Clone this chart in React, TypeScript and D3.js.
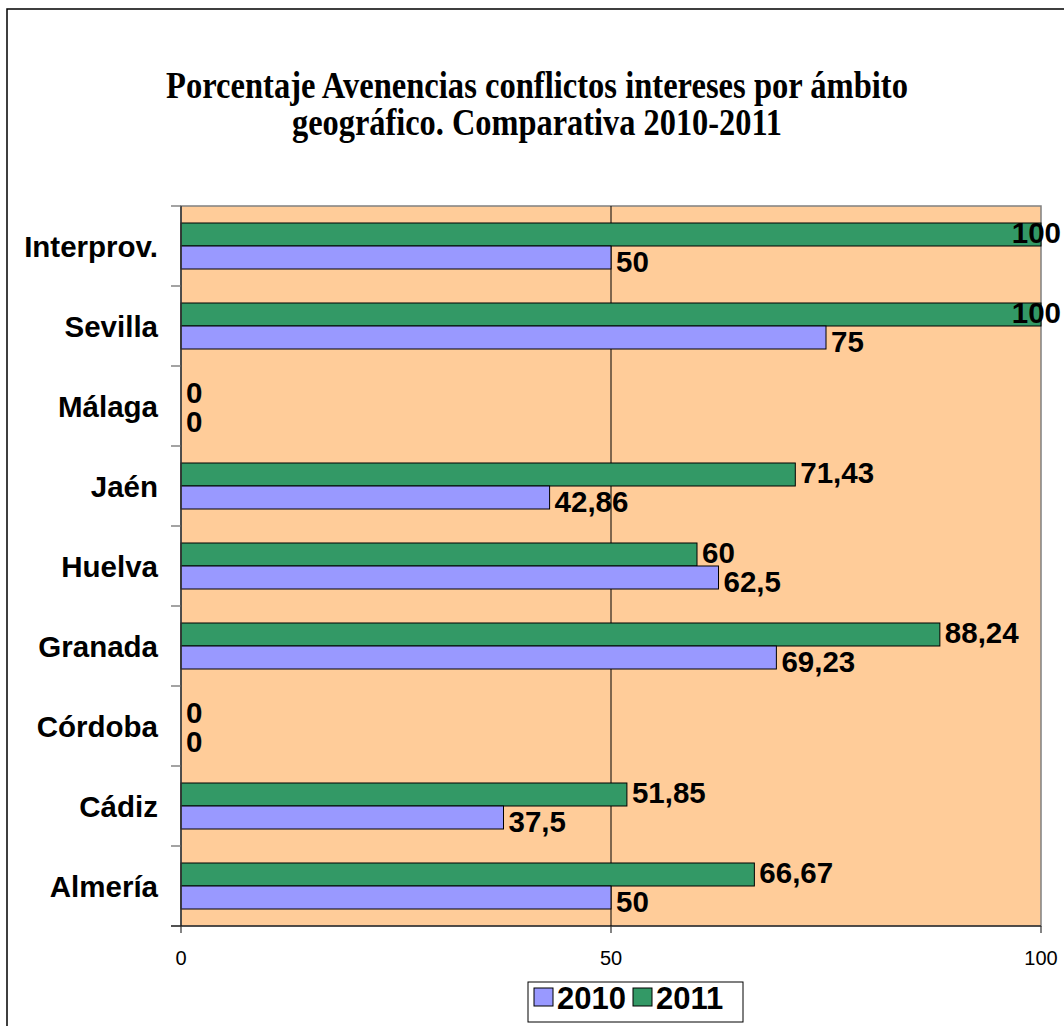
import React from "react";
import * as d3 from "d3";

const categories = ["Interprov.", "Sevilla", "Málaga", "Jaén", "Huelva", "Granada", "Córdoba", "Cádiz", "Almería"];
const values2010 = [50, 75, 0, 42.86, 62.5, 69.23, 0, 37.5, 50];
const values2011 = [100, 100, 0, 71.43, 60, 88.24, 0, 51.85, 66.67];
const seriesNames = ["2011", "2010"];
const xTicks = [0, 50, 100];
const titleLines = ["Porcentaje Avenencias conflictos intereses por ámbito", "geográfico. Comparativa 2010-2011"];

const W = 1064;
const H = 1026;
const plot = { left: 181, right: 1041, top: 206, bottom: 926 };
const colors: Record<string, string> = { "2010": "#9999FF", "2011": "#339966" };
const SANS = "'Liberation Sans', Arial, sans-serif";

const fmt = (v: number) => String(v).replace(".", ",");

export default function App() {
  const x = d3.scaleLinear().domain([0, 100]).range([plot.left, plot.right]);
  const y = d3.scaleBand<string>().domain(categories).range([plot.top, plot.bottom]).padding(0);
  const inner = d3
    .scaleBand<string>()
    .domain(seriesNames)
    .range([0, y.bandwidth()])
    .paddingInner(0)
    .paddingOuter(0.739);

  const series: Record<string, number[]> = { "2010": values2010, "2011": values2011 };
  const labelSize = 29.5;
  const digitW = 0.556 * labelSize;
  const labelShift: Record<string, number> = { "2011": -2, "2010": 4 };

  const bars: React.ReactNode[] = [];
  const labels: React.ReactNode[] = [];
  categories.forEach((c, i) => {
    seriesNames.forEach((s) => {
      const v = series[s][i];
      const y0 = (y(c) as number) + (inner(s) as number);
      const bh = inner.bandwidth();
      if (v > 0) {
        bars.push(
          <rect key={`b-${c}-${s}`} x={x(0)} y={y0} width={x(v) - x(0)} height={bh}
            fill={colors[s]} stroke="#000" strokeWidth={1} />
        );
      }
      const txt = fmt(v);
      const estW = txt.split("").reduce((a, ch) => a + (ch === "," ? 0.278 * labelSize : digitW), 0);
      let lx = x(v) + 5;
      let anchor: "start" | "end" = "start";
      if (lx + estW > W - 3) {
        lx = W - 3;
        anchor = "end";
      }
      labels.push(
        <text key={`l-${c}-${s}`} x={lx} y={y0 + bh / 2 + labelShift[s]} dominantBaseline="central"
          textAnchor={anchor} fontFamily={SANS} fontWeight="bold" fontSize={labelSize} fill="#000">
          {txt}
        </text>
      );
    });
  });

  const boundaries = [...categories.map((c) => y(c) as number), plot.bottom];

  return (
    <svg width={W} height={H} style={{ position: "absolute", left: 0, top: 0, background: "#fff" }}>
      <rect x={7} y={9} width={W + 10} height={H + 10} fill="#fff" stroke="#000" strokeWidth={1.5} />
      {titleLines.map((t, i) => (
        <text key={t} x={537} y={98 + i * 37} textAnchor="middle"
          fontFamily="'Liberation Serif', 'Times New Roman', serif" fontWeight="bold" fontSize={37}
          textLength={i === 0 ? 742 : 490} lengthAdjust="spacingAndGlyphs" fill="#000">
          {t}
        </text>
      ))}
      <rect x={plot.left} y={plot.top} width={plot.right - plot.left} height={plot.bottom - plot.top}
        fill="#FFCC99" stroke="#808080" strokeWidth={1.5} />
      <line x1={x(50)} x2={x(50)} y1={plot.top} y2={plot.bottom} stroke="#000" strokeWidth={1} />
      {bars}
      {/* y axis */}
      <line x1={plot.left} x2={plot.left} y1={plot.top} y2={plot.bottom} stroke="#333" strokeWidth={1.5} />
      {boundaries.map((b, i) => (
        <line key={`yt-${i}`} x1={plot.left - 10} x2={plot.left} y1={b} y2={b} stroke="#666" strokeWidth={1.2} />
      ))}
      {categories.map((c) => (
        <text key={`c-${c}`} x={158} y={(y(c) as number) + y.bandwidth() / 2} dominantBaseline="central"
          textAnchor="end" fontFamily={SANS} fontWeight="bold" fontSize={29.5} fill="#000">
          {c}
        </text>
      ))}
      {/* x axis */}
      <line x1={plot.left - 10} x2={plot.right} y1={plot.bottom} y2={plot.bottom} stroke="#000" strokeWidth={1.2} />
      {xTicks.map((t) => (
        <g key={`xt-${t}`}>
          <line x1={x(t)} x2={x(t)} y1={plot.bottom} y2={plot.bottom + 7} stroke="#333" strokeWidth={1.2} />
          <text x={x(t)} y={965} textAnchor="middle" fontFamily={SANS} fontSize={20} fill="#000">{t}</text>
        </g>
      ))}
      {labels}
      {/* legend */}
      <rect x={528} y={982} width={215} height={40} fill="#fff" stroke="#000" strokeWidth={1} />
      {["2010", "2011"].map((s, i) => (
        <g key={`lg-${s}`}>
          <rect x={534 + i * 99} y={988} width={19} height={18} fill={colors[s]} stroke="#000" strokeWidth={1} />
          <text x={557 + i * 99} y={1009} fontFamily={SANS} fontWeight="bold" fontSize={31} fill="#000">{s}</text>
        </g>
      ))}
    </svg>
  );
}
